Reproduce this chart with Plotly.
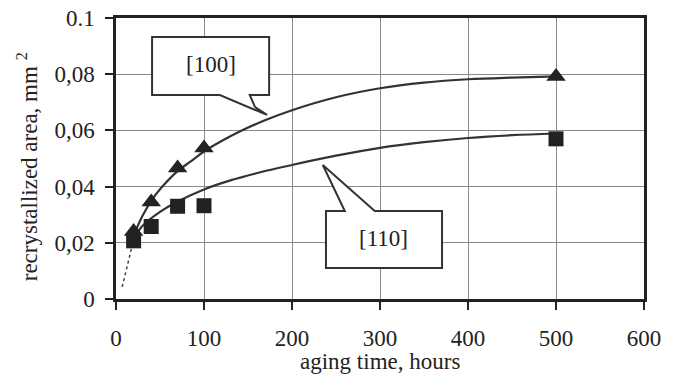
import plotly.graph_objects as go

# measured points
hours = [20, 40, 70, 100, 500]
area_100 = [0.024, 0.0345, 0.0466, 0.0537, 0.0792]
area_110 = [0.0207, 0.0258, 0.0330, 0.0332, 0.0570]

# fitted trend curves
fit_hours_100 = [20, 30, 42, 55, 70, 85, 100, 120, 140, 170, 200, 250, 300, 350, 400, 450, 500]
fit_area_100 = [0.0225, 0.0295, 0.0358, 0.0408, 0.0455, 0.0490, 0.0525, 0.0562, 0.0595, 0.0637,
                0.0672, 0.0718, 0.0750, 0.0770, 0.0782, 0.0788, 0.0792]
fit_hours_110 = [20, 30, 50, 70, 100, 130, 165, 200, 250, 300, 350, 400, 450, 500]
fit_area_110 = [0.0215, 0.0260, 0.0310, 0.0347, 0.0390, 0.0422, 0.0452, 0.0477, 0.0510, 0.0538,
                0.0558, 0.0573, 0.0583, 0.0589]

# dotted extrapolation toward origin
extrap_hours = [7, 12.5, 20]
extrap_area = [0.0043, 0.0114, 0.0210]

x_ticks = [0, 100, 200, 300, 400, 500, 600]
y_ticks = [0, 0.02, 0.04, 0.06, 0.08, 0.1]
y_tick_text = ["0", "0,02", "0,04", "0,06", "0,08", "0.1"]

FONT = "Liberation Serif"
INK = "#222222"
FS = 23

fig = go.Figure()

fig.add_trace(go.Scatter(x=extrap_hours, y=extrap_area, mode="lines",
                         line=dict(color="#444444", width=1.5, dash="dot"), hoverinfo="skip"))
fig.add_trace(go.Scatter(x=fit_hours_100, y=fit_area_100, mode="lines",
                         line=dict(color="#333333", width=2.2, shape="spline"), hoverinfo="skip"))
fig.add_trace(go.Scatter(x=fit_hours_110, y=fit_area_110, mode="lines",
                         line=dict(color="#333333", width=2.2, shape="spline"), hoverinfo="skip"))
fig.add_trace(go.Scatter(x=hours, y=area_100, mode="markers", name="[100]",
                         marker=dict(symbol="triangle-up", size=17, color=INK)))
fig.add_trace(go.Scatter(x=hours, y=area_110, mode="markers", name="[110]",
                         marker=dict(symbol="square", size=15, color=INK)))

# callout balloons
fig.add_shape(type="path", xref="x", yref="y",
              path="M 41 0.0932 L 174 0.0932 L 174 0.0726 L 152 0.0726 L 158 0.0683 "
                   "L 171.6 0.0655 L 118 0.0726 L 41 0.0726 Z",
              line=dict(color="#333333", width=2), fillcolor="white", layer="above")
fig.add_shape(type="path", xref="x", yref="y",
              path="M 238.6 0.0313 L 260 0.0313 L 235 0.0477 L 294 0.0313 L 370.5 0.0313 "
                   "L 370.5 0.0110 L 238.6 0.0110 Z",
              line=dict(color="#333333", width=2), fillcolor="white", layer="above")
fig.add_annotation(x=108, y=0.0836, text="[100]", showarrow=False,
                   font=dict(family=FONT, size=FS, color=INK))
fig.add_annotation(x=304.5, y=0.0214, text="[110]", showarrow=False,
                   font=dict(family=FONT, size=FS, color=INK))

# axis titles
fig.add_annotation(xref="paper", yref="paper", x=0.5, y=-0.224, xanchor="center", yanchor="middle",
                   text="aging time, hours", showarrow=False,
                   font=dict(family=FONT, size=FS, color=INK))
fig.add_annotation(xref="paper", yref="paper", x=-0.166, y=0.47, xanchor="center", yanchor="middle",
                   text="recrystallized area, mm <sup>2</sup>", textangle=-90, showarrow=False,
                   font=dict(family=FONT, size=FS, color=INK))

# page body adds an 8px offset; compensate in size and margins
fig.update_layout(
    width=666, height=366,
    margin=dict(l=108, r=30, t=10, b=75, autoexpand=False),
    paper_bgcolor="white", plot_bgcolor="white",
    showlegend=False,
    font=dict(family=FONT, size=FS, color=INK),
)
fig.update_xaxes(
    range=[0, 600], tickvals=x_ticks, ticktext=[str(v) for v in x_ticks],
    showgrid=True, gridcolor="#8a8a8a", gridwidth=1,
    showline=True, linecolor=INK, linewidth=2.5, mirror=True,
    ticks="outside", ticklen=8, tickwidth=2, tickcolor=INK,
    ticklabelstandoff=9, zeroline=False, ticklabeloverflow="allow",
)
fig.update_yaxes(
    range=[0, 0.1], tickvals=y_ticks, ticktext=y_tick_text,
    showgrid=True, gridcolor="#8a8a8a", gridwidth=1,
    showline=True, linecolor=INK, linewidth=2.5, mirror=True,
    ticks="outside", ticklen=8, tickwidth=2, tickcolor=INK,
    ticklabelstandoff=6, zeroline=False, ticklabeloverflow="allow",
)

fig.write_html("out.html")
